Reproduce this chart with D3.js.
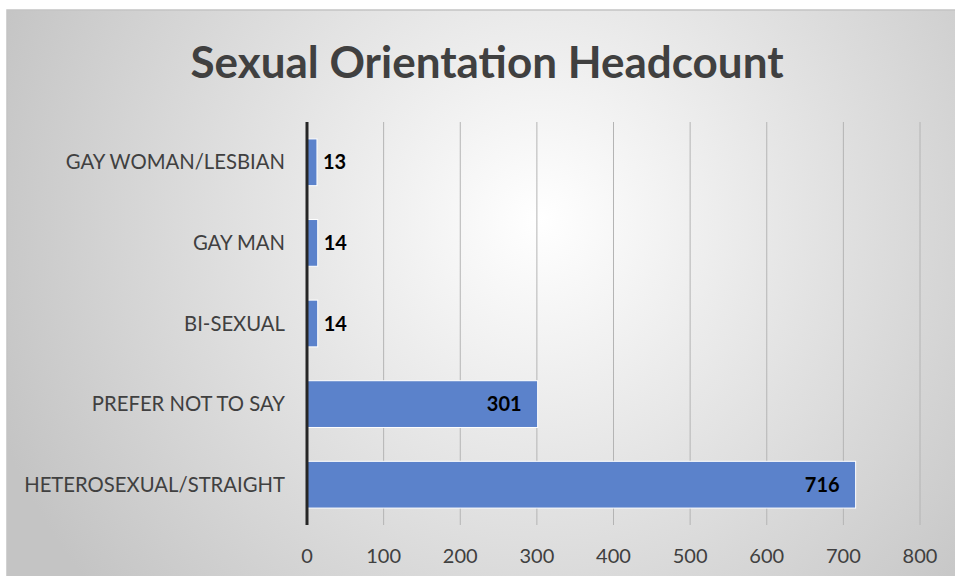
<!DOCTYPE html>
<html>
<head>
<meta charset="utf-8">
<script src="https://cdn.jsdelivr.net/npm/d3@7"></script>
<style>
  body { margin: 0; background: #fff; }
  svg { display: block; font-family: Lato, "Open Sans", sans-serif; }
</style>
</head>
<body>
<svg id="chart"></svg>
<script>
const categories = ["GAY WOMAN/LESBIAN", "GAY MAN", "BI-SEXUAL", "PREFER NOT TO SAY", "HETEROSEXUAL/STRAIGHT"];
const headcount = [13, 14, 14, 301, 716];
const xTicks = [0, 100, 200, 300, 400, 500, 600, 700, 800];

const WIDTH = 955;
const HEIGHT = 576;
const margin = {top: 122, right: 35, bottom: 51, left: 307};

const svg = d3.select('#chart').attr('width', WIDTH).attr('height', HEIGHT);

const defs = svg.append('defs');
const grad = defs.append('radialGradient')
    .attr('id', 'bg')
    .attr('gradientUnits', 'userSpaceOnUse')
    .attr('cx', 540).attr('cy', 220).attr('r', 580);
grad.append('stop').attr('offset', '0%').attr('stop-color', '#ffffff');
grad.append('stop').attr('offset', '100%').attr('stop-color', '#c4c4c4');

svg.append('rect')
    .attr('x', 7).attr('y', 10)
    .attr('width', WIDTH).attr('height', HEIGHT)
    .attr('fill', 'url(#bg)')
    .attr('stroke', '#c4c4c4')
    .attr('stroke-width', 1.5);

svg.append('text')
    .attr('x', 487).attr('y', 78)
    .attr('text-anchor', 'middle')
    .attr('fill', '#404040')
    .style('font-size', '44px')
    .style('font-weight', 'bold')
    .text('Sexual Orientation Headcount');

const x = d3.scaleLinear()
    .domain([0, 800])
    .range([margin.left, WIDTH - margin.right]);

const y = d3.scaleBand()
    .domain(categories)
    .range([margin.top, HEIGHT - margin.bottom])
    .paddingInner(0.42)
    .paddingOuter(0.21);

// gridlines
svg.append('g')
    .selectAll('line')
    .data(xTicks.slice(1))
    .join('line')
    .attr('x1', d => x(d)).attr('x2', d => x(d))
    .attr('y1', margin.top).attr('y2', HEIGHT - margin.bottom)
    .attr('stroke', '#b4b4b4')
    .attr('stroke-width', 1);

// bars
svg.append('g')
    .selectAll('rect')
    .data(categories)
    .join('rect')
    .attr('x', x(0))
    .attr('y', d => y(d))
    .attr('width', (d, i) => x(headcount[i]) - x(0))
    .attr('height', y.bandwidth())
    .attr('fill', '#5b82cb')
    .attr('stroke', '#ffffff')
    .attr('stroke-width', 1);

// value labels
svg.append('g')
    .selectAll('text')
    .data(categories)
    .join('text')
    .attr('x', (d, i) => headcount[i] > 100 ? x(headcount[i]) - 16 : x(headcount[i]) + 6)
    .attr('y', d => y(d) + y.bandwidth() / 2)
    .attr('dy', '0.35em')
    .attr('text-anchor', (d, i) => headcount[i] > 100 ? 'end' : 'start')
    .attr('fill', '#000')
    .style('font-size', '20px')
    .style('font-weight', 'bold')
    .text((d, i) => headcount[i]);

// category labels
svg.append('g')
    .selectAll('text')
    .data(categories)
    .join('text')
    .attr('x', margin.left - 22)
    .attr('y', d => y(d) + y.bandwidth() / 2)
    .attr('dy', '0.35em')
    .attr('text-anchor', 'end')
    .attr('fill', '#404040')
    .style('font-size', '20.3px')
    .text(d => d);

// x tick labels
svg.append('g')
    .selectAll('text')
    .data(xTicks)
    .join('text')
    .attr('x', d => x(d))
    .attr('y', 563)
    .attr('text-anchor', 'middle')
    .attr('fill', '#404040')
    .style('font-size', '20px')
    .text(d => d);

// vertical axis line
svg.append('line')
    .attr('x1', x(0)).attr('x2', x(0))
    .attr('y1', margin.top).attr('y2', HEIGHT - margin.bottom)
    .attr('stroke', '#262626')
    .attr('stroke-width', 3);
</script>
</body>
</html>
